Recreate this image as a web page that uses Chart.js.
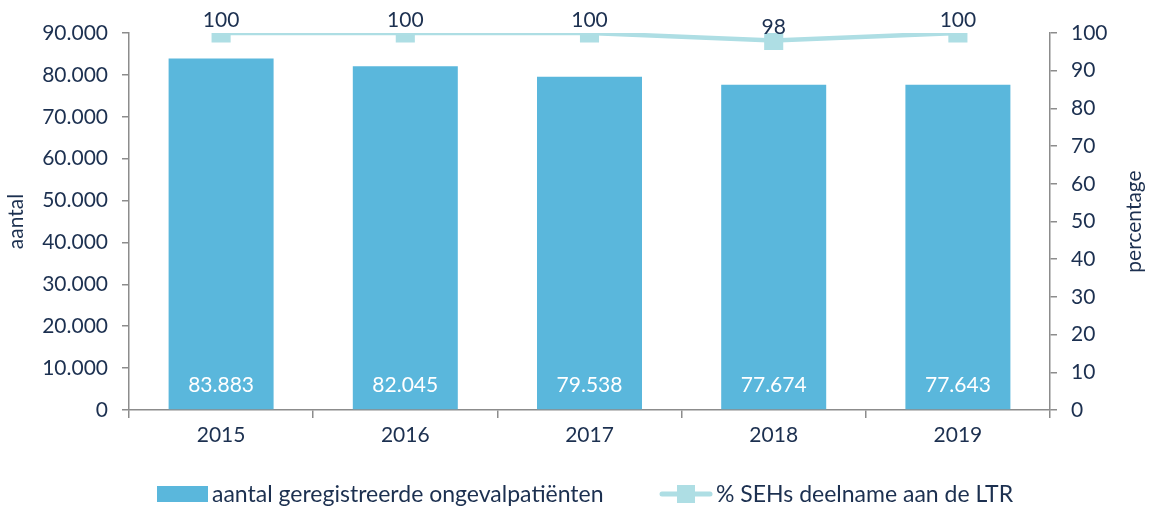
<!DOCTYPE html>
<html>
<head>
<meta charset="utf-8">
<script src="https://cdn.jsdelivr.net/npm/chart.js@4.4.1/dist/chart.umd.min.js"></script>
<style>
  html, body { margin: 0; padding: 0; background: #ffffff; }
  #wrap { width: 1149px; height: 508px; position: relative; }
</style>
</head>
<body>
<div id="wrap"><canvas id="c" width="1149" height="508"></canvas></div>
<script>
// Data
const years = ['2015', '2016', '2017', '2018', '2019'];
const patients = [83883, 82045, 79538, 77674, 77643];
const sehShare = [100, 100, 100, 98, 100];
const countTicks = [0, 10000, 20000, 30000, 40000, 50000, 60000, 70000, 80000, 90000];
const pctTicks = [0, 10, 20, 30, 40, 50, 60, 70, 80, 90, 100];

const barLabel = 'aantal geregistreerde ongevalpatiënten';
const lineLabel = '% SEHs deelname aan de LTR';

const FONT = 'Lato, "Open Sans", sans-serif';
const TEXT = '#1c3050';
const AXIS = '#8c8c8c';
const BAR = '#5ab7dc';
const LINE = '#aedee4';

const fmt = v => v.toLocaleString('de-DE');

// Value labels, right-hand axis title and the legend row
const labelsPlugin = {
  id: 'labels',
  afterDatasetsDraw(chart) {
    const ctx = chart.ctx;
    ctx.save();
    ctx.textAlign = 'center';
    ctx.textBaseline = 'middle';
    // bar values, white, near the bar bottom
    const barMeta = chart.getDatasetMeta(0);
    ctx.font = '21px ' + FONT;
    ctx.fillStyle = '#ffffff';
    barMeta.data.forEach((el, i) => {
      ctx.fillText(fmt(patients[i]), el.x, chart.chartArea.bottom - 25);
    });
    // line values above the markers
    const lineMeta = chart.getDatasetMeta(1);
    ctx.fillStyle = TEXT;
    lineMeta.data.forEach((el, i) => {
      ctx.fillText(String(sehShare[i]), el.x, el.y - 13);
    });
    ctx.restore();
  },
  afterDraw(chart) {
    const ctx = chart.ctx;
    ctx.save();
    // right axis title, reading bottom to top
    const area = chart.chartArea;
    ctx.font = '21px ' + FONT;
    ctx.fillStyle = TEXT;
    ctx.textAlign = 'center';
    ctx.textBaseline = 'middle';
    ctx.translate(1134, (area.top + area.bottom) / 2);
    ctx.rotate(-Math.PI / 2);
    ctx.fillText('percentage', 0, 0);
    ctx.restore();

    ctx.save();
    const y = 494;
    ctx.font = '23px ' + FONT;
    ctx.textBaseline = 'middle';
    ctx.textAlign = 'left';
    // bar swatch
    ctx.fillStyle = BAR;
    ctx.fillRect(157, y - 8, 51, 16);
    ctx.fillStyle = TEXT;
    ctx.fillText(barLabel, 212, y + 1);
    // line swatch with square marker
    ctx.strokeStyle = LINE;
    ctx.lineWidth = 5;
    ctx.lineCap = 'round';
    ctx.beginPath();
    ctx.moveTo(662, y);
    ctx.lineTo(710, y);
    ctx.stroke();
    ctx.fillStyle = LINE;
    ctx.fillRect(677, y - 9, 18, 18);
    ctx.fillStyle = TEXT;
    ctx.fillText(lineLabel, 716, y + 1);
    ctx.restore();
  }
};

new Chart(document.getElementById('c'), {
  type: 'bar',
  data: {
    labels: years,
    datasets: [
      {
        type: 'bar',
        label: barLabel,
        data: patients,
        backgroundColor: BAR,
        borderWidth: 0,
        categoryPercentage: 1,
        barPercentage: 0.57,
        yAxisID: 'y',
        order: 2
      },
      {
        type: 'line',
        label: lineLabel,
        data: sehShare,
        borderColor: LINE,
        backgroundColor: LINE,
        borderWidth: 4.5,
        pointStyle: 'rect',
        pointRadius: 13.5,
        pointHoverRadius: 13.5,
        pointBorderWidth: 0,
        tension: 0,
        yAxisID: 'y1',
        order: 1
      }
    ]
  },
  options: {
    responsive: false,
    animation: false,
    events: [],
    layout: { padding: { top: 33, left: 0, right: 0, bottom: 0 } },
    plugins: {
      legend: { display: false },
      tooltip: { enabled: false }
    },
    scales: {
      x: {
        offset: true,
        grid: {
          offset: true,
          drawOnChartArea: false,
          drawTicks: true,
          tickLength: 8,
          color: AXIS,
          lineWidth: 1.5
        },
        border: { display: true, color: AXIS, width: 1.5 },
        ticks: { color: TEXT, font: { family: FONT, size: 21 }, padding: 5 },
        afterFit(scale) { scale.height = 98; }
      },
      y: {
        position: 'left',
        min: 0,
        max: 90000,
        afterBuildTicks(scale) { scale.ticks = countTicks.map(v => ({ value: v })); },
        grid: { drawOnChartArea: false, tickLength: 7, color: AXIS, lineWidth: 1.5 },
        border: { display: true, color: AXIS, width: 1.5 },
        ticks: { color: TEXT, font: { family: FONT, size: 21 }, padding: 14, callback: v => fmt(v) },
        title: { display: true, text: 'aantal', color: TEXT, font: { family: FONT, size: 21 }, padding: { top: 4, bottom: 0 } },
        afterFit(scale) { scale.width = 129; }
      },
      y1: {
        position: 'right',
        min: 0,
        max: 100,
        afterBuildTicks(scale) { scale.ticks = pctTicks.map(v => ({ value: v })); },
        grid: { drawOnChartArea: false, tickLength: 7, color: AXIS, lineWidth: 1.5 },
        border: { display: true, color: AXIS, width: 1.5 },
        ticks: { color: TEXT, font: { family: FONT, size: 21 }, padding: 14 },
        afterFit(scale) { scale.width = 99; }
      }
    }
  },
  plugins: [labelsPlugin]
});
</script>
</body>
</html>
